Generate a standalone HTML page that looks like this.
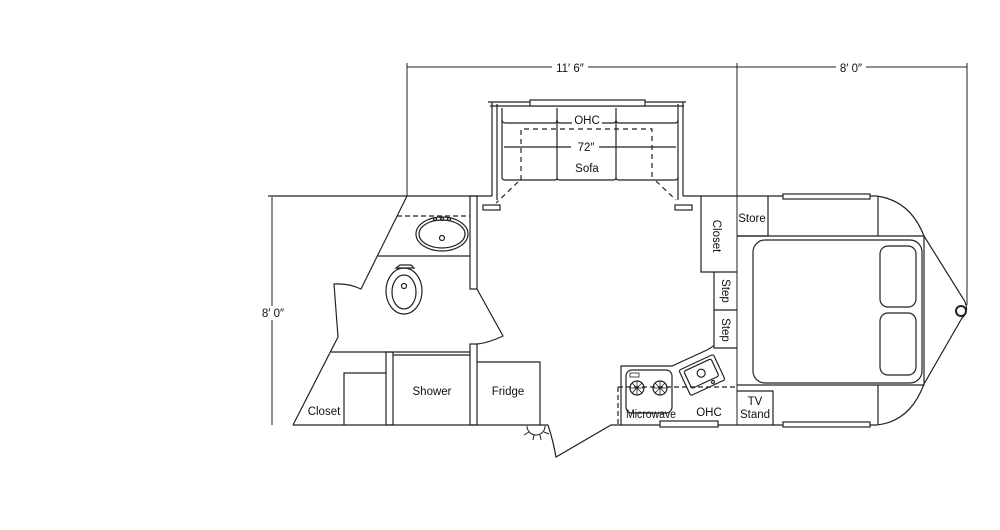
<!DOCTYPE html>
<html><head><meta charset="utf-8"><style>
html,body{margin:0;padding:0;background:#fff;width:1000px;height:530px;overflow:hidden}
svg{display:block}
text{font-family:"Liberation Sans",sans-serif;font-size:11.5px;fill:#111}
</style></head><body>
<svg width="1000" height="530" viewBox="0 0 1000 530" xmlns="http://www.w3.org/2000/svg">
<g fill="none" stroke="#222" stroke-width="1.2">
<line x1="407" y1="67" x2="967" y2="67" stroke-width="1"/>
<line x1="407" y1="63" x2="407" y2="196" stroke-width="1"/>
<line x1="737" y1="63" x2="737" y2="425" stroke-width="1"/>
<line x1="967" y1="63" x2="967" y2="305" stroke-width="1"/>
<line x1="272" y1="197" x2="272" y2="425" stroke-width="1"/>
<line x1="268" y1="196" x2="492" y2="196"/>
<line x1="492" y1="196" x2="492" y2="102"/>
<line x1="497" y1="200" x2="497" y2="104"/>
<line x1="488" y1="102" x2="686" y2="102"/>
<line x1="490" y1="106" x2="684" y2="106"/>
<rect x="530" y="100" width="115" height="6" fill="#fff"/>
<line x1="678" y1="104" x2="678" y2="200"/>
<line x1="683" y1="102" x2="683" y2="196"/>
<line x1="683" y1="196" x2="876" y2="196"/>
<rect x="483" y="205" width="17" height="5"/>
<rect x="675" y="205" width="17" height="5"/>
<path d="M502 108 V177 Q502 180 505 180 H555 Q557 180 557 178 V108 M557 178 Q557 180 560 180 H613 Q616 180 616 178 V108 M616 178 Q616 180 619 180 H675 Q678 180 678 177"/>
<path d="M502 120 Q502 123 506 123 H555 Q557 123 557 120 Q557 123 560 123 H572 M602 123 H613 Q616 123 616 120 Q616 123 619 123 H675 Q678 123 678 120"/>
<line x1="504" y1="147" x2="571" y2="147"/>
<line x1="599" y1="147" x2="676" y2="147"/>
<path d="M521 180 V129 H652 V180" stroke-dasharray="5,4"/>
<path d="M518 182 L496 203 M656 181 L676 200" stroke-dasharray="5,4"/>
<path d="M407 196 L361 289 Q348 283 334 284 L338 337 L293 425"/>
<rect x="470" y="196" width="7" height="93"/>
<path d="M477 289 L503 336 Q488 343 477 344"/>
<rect x="470" y="344" width="7" height="81"/>
<line x1="397" y1="216" x2="470" y2="216" stroke-dasharray="5,3"/>
<line x1="378" y1="256" x2="470" y2="256"/>
<ellipse cx="442" cy="234" rx="26" ry="17"/>
<ellipse cx="442" cy="234" rx="23" ry="14"/>
<circle cx="442" cy="238" r="2.5"/>
<circle cx="435" cy="219" r="1.5"/><circle cx="442" cy="219" r="1.5"/><circle cx="449" cy="219" r="1.5"/>
<path d="M396 268 L400 265 H411 L414 268 Z"/>
<ellipse cx="404" cy="291" rx="18" ry="23"/>
<ellipse cx="404" cy="292" rx="12" ry="17"/>
<circle cx="404" cy="286" r="2.5"/>
<line x1="331" y1="352" x2="470" y2="352"/>
<line x1="393" y1="355" x2="470" y2="355"/>
<rect x="386" y="352" width="7" height="73"/>
<path d="M344 425 V373 H386"/>
<path d="M477 362 H540 V425"/>
<line x1="293" y1="425" x2="548" y2="425"/>
<path d="M548 425 Q553 440 556 457 L611 425 H876"/>
<path d="M527 426 A9 9 0 0 0 545 426 M529 432 L524 435 M534 435 L533 440 M540 435 L541 440 M544 432 L549 434" stroke-width="1"/>
<path d="M621 425 V366 H672 L707 350 Q714 346 714 345"/>
<line x1="618" y1="387" x2="737" y2="387" stroke-dasharray="5,3"/>
<line x1="618" y1="387" x2="618" y2="425" stroke-dasharray="5,3"/>
<rect x="626" y="370" width="46" height="43" rx="6"/>
<rect x="630" y="373" width="9" height="4" stroke-width="0.8"/>
<circle cx="637" cy="388" r="7"/><circle cx="660" cy="388" r="7"/>
<path d="M630 388 H644 M637 381 V395 M632 383 L642 393 M642 383 L632 393 M653 388 H667 M660 381 V395 M655 383 L665 393 M665 383 L655 393" stroke-width="0.8"/>
<g transform="rotate(-25 702 375)">
<rect x="683" y="361" width="38" height="28" rx="2"/>
<rect x="687" y="364" width="30" height="19" rx="2"/>
<circle cx="702" cy="373" r="4"/>
<circle cx="709" cy="386" r="1.5"/>
</g>
<rect x="660" y="421" width="58" height="6" fill="#fff"/>
<path d="M701 196 V272 H737"/>
<path d="M714 272 V348 H737 M714 310 H737"/>
<path d="M737 236 H768 V196"/>
<rect x="753" y="240" width="169" height="143" rx="12"/>
<rect x="880" y="246" width="36" height="61" rx="8"/>
<rect x="880" y="313" width="36" height="62" rx="8"/>
<path d="M737 236 H924 V385 H737"/>
<path d="M878 196 V236 M878 385 V425"/>
<path d="M876 196 Q910 200 924 236 L964 300 Q970 311 962 318 L924 384 Q910 422 876 425"/>
<path d="M737 391 H773 V425"/>
<rect x="783" y="194" width="87" height="5" fill="#fff"/>
<rect x="783" y="422" width="87" height="5" fill="#fff"/>
<circle cx="961" cy="311" r="5" stroke-width="2"/>
</g>
<rect x="552" y="61" width="36" height="12" fill="#fff"/>
<text x="570" y="72" text-anchor="middle">11′ 6″</text>
<rect x="836" y="61" width="30" height="12" fill="#fff"/>
<text x="851" y="72" text-anchor="middle">8′ 0″</text>
<rect x="260" y="306" width="26" height="14" fill="#fff"/>
<text x="273" y="317" text-anchor="middle">8′ 0″</text>
<rect x="573" y="114" width="28" height="13" fill="#fff"/>
<text x="587" y="124" text-anchor="middle">OHC</text>
<text x="586" y="151" text-anchor="middle">72″</text>
<text x="587" y="172" text-anchor="middle">Sofa</text>
<text x="324" y="415" text-anchor="middle">Closet</text>
<text x="432" y="395" text-anchor="middle">Shower</text>
<text x="508" y="395" text-anchor="middle">Fridge</text>
<text x="626" y="418" textLength="50" lengthAdjust="spacingAndGlyphs">Microwave</text>
<text x="709" y="416" text-anchor="middle">OHC</text>
<text x="752" y="222" text-anchor="middle">Store</text>
<text x="755" y="405" text-anchor="middle">TV</text>
<text x="755" y="418" text-anchor="middle">Stand</text>
<text transform="translate(713 236) rotate(90)" text-anchor="middle">Closet</text>
<text transform="translate(722 291) rotate(90)" text-anchor="middle">Step</text>
<text transform="translate(722 330) rotate(90)" text-anchor="middle">Step</text>
</svg>
</body></html>
